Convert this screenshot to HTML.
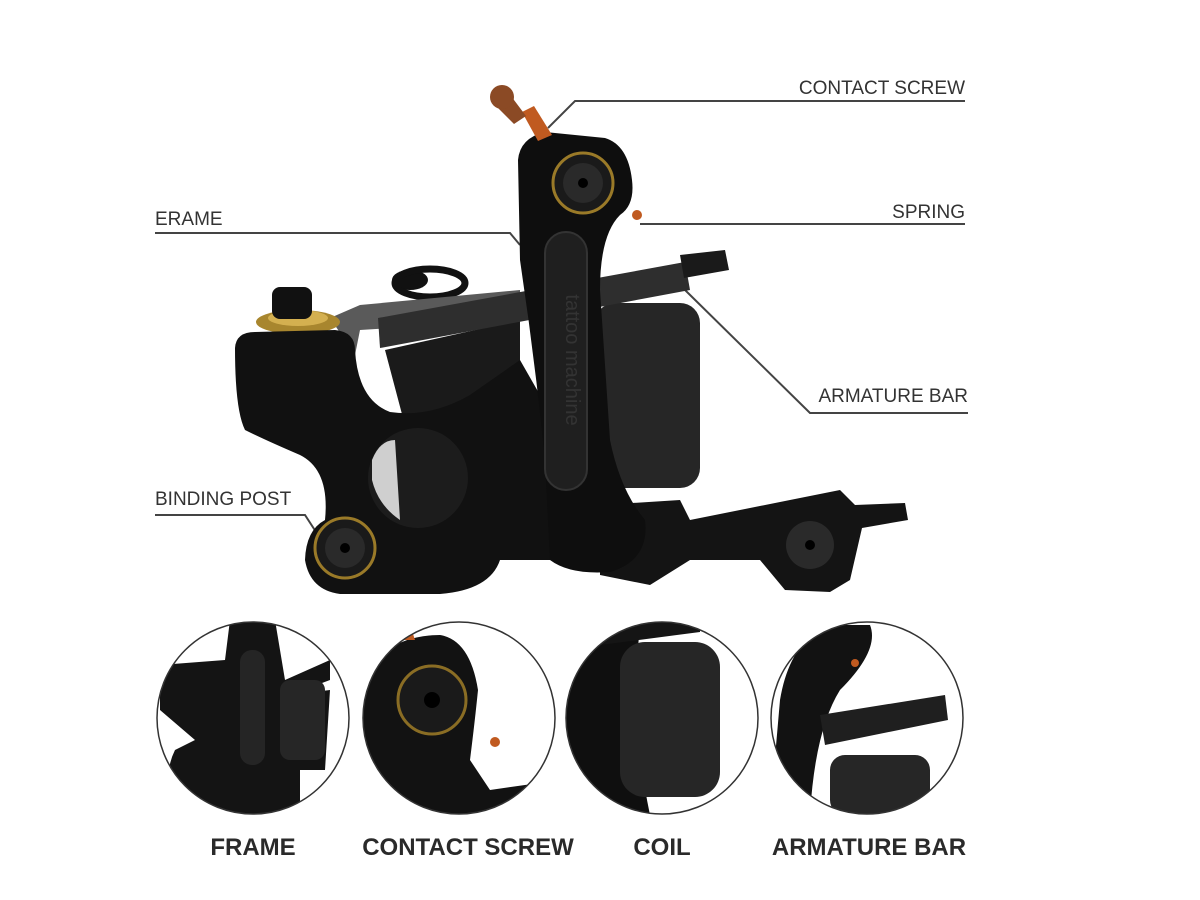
<!DOCTYPE html>
<html><head><meta charset="utf-8"><style>
html,body{margin:0;padding:0;background:#fff;}
svg{display:block}
.lab{font-family:"Liberation Sans",sans-serif;font-size:19px;fill:#333;}
.big{font-family:"Liberation Sans",sans-serif;font-size:24px;font-weight:bold;fill:#2a2a2a;}
</style></head><body>
<svg width="1200" height="900" viewBox="0 0 1200 900" xmlns="http://www.w3.org/2000/svg">
<defs>
<clipPath id="c1"><circle cx="253" cy="718" r="96"/></clipPath>
<clipPath id="c2"><circle cx="459" cy="718" r="96"/></clipPath>
<clipPath id="c3"><circle cx="662" cy="718" r="96"/></clipPath>
<clipPath id="c4"><circle cx="867" cy="718" r="96"/></clipPath>
</defs>
<rect width="1200" height="900" fill="#fff"/>

<g stroke="#444" stroke-width="2" fill="none">
<polyline points="548,128 575,101 965,101"/>
<polyline points="640,224 965,224"/>
<polyline points="155,233 510,233 520,245"/>
<polyline points="685,290 810,413 968,413"/>
<polyline points="155,515 305,515 318,535"/>
</g>
<text class="lab" x="965" y="94" text-anchor="end">CONTACT SCREW</text>
<text class="lab" x="965" y="218" text-anchor="end">SPRING</text>
<text class="lab" x="155" y="225">ERAME</text>
<text class="lab" x="968" y="402" text-anchor="end">ARMATURE BAR</text>
<text class="lab" x="155" y="505">BINDING POST</text>

<path d="M600,505 L680,500 L690,520 L790,500 L840,490 L855,505 L905,503 L908,520 L862,528 L850,580 L830,592 L785,590 L760,560 L690,560 L650,585 L600,575 Z" fill="#141414"/>
<circle cx="810" cy="545" r="24" fill="#2a2a2a"/>
<circle cx="810" cy="545" r="5" fill="#000"/>
<rect x="595" y="303" width="105" height="185" rx="20" fill="#262626"/>
<path d="M385,350 L520,320 L520,510 L430,520 Z" fill="#1a1a1a"/>
<ellipse cx="410" cy="280" rx="18" ry="10" fill="#111"/>
<ellipse cx="430" cy="283" rx="35" ry="14" fill="none" stroke="#111" stroke-width="7"/>
<path d="M330,318 L360,305 L520,290 L520,320 L360,330 L355,355 Z" fill="#5a5a5a"/>
<ellipse cx="298" cy="322" rx="42" ry="12" fill="#a8862e"/>
<ellipse cx="298" cy="318" rx="30" ry="8" fill="#d4b050"/>
<rect x="272" y="287" width="40" height="32" rx="8" fill="#111"/>
<path d="M378,318 L685,262 L690,290 L380,348 Z" fill="#2e2e2e"/>
<path d="M680,255 L725,250 L729,270 L684,278 Z" fill="#1a1a1a"/>
<path d="M235,348 Q236,332 255,332 L335,330 Q355,332 355,350 Q358,400 390,412 Q430,418 470,395 L520,360 L560,430 L560,560 L500,560 Q490,590 440,594 L340,594 Q310,590 305,560 Q306,530 325,520 Q330,470 300,455 Q265,440 245,430 Q235,410 235,348 Z" fill="#111"/>
<ellipse cx="418" cy="478" rx="50" ry="50" fill="#1c1c1c"/>
<path d="M372,460 Q380,440 395,440 L400,520 Q378,505 372,480 Z" fill="#cfcfcf"/>
<circle cx="345" cy="548" r="30" fill="#1a1a1a" stroke="#9a7a28" stroke-width="3"/>
<circle cx="345" cy="548" r="20" fill="#2a2a2a"/>
<circle cx="345" cy="548" r="5" fill="#000"/>
<path d="M518,160 Q520,138 545,132 L605,138 Q628,145 632,180 Q635,205 620,215 Q600,235 600,290 L610,440 Q620,490 645,520 Q650,560 610,572 Q570,575 550,560 L545,460 Q535,360 520,260 Z" fill="#0e0e0e"/>
<rect x="545" y="232" width="42" height="258" rx="21" fill="#1f1f1f" stroke="#333" stroke-width="2"/>
<text x="566" y="360" transform="rotate(90 566 360)" text-anchor="middle" font-family="Liberation Sans,sans-serif" font-size="20" fill="#333">tattoo machine</text>
<circle cx="583" cy="183" r="30" fill="#1a1a1a" stroke="#9a7a28" stroke-width="3"/>
<circle cx="583" cy="183" r="20" fill="#2a2a2a"/>
<circle cx="583" cy="183" r="5" fill="#000"/>
<path d="M522,112 L534,106 L552,135 L538,141 Z" fill="#c05a20"/>
<path d="M494,104 L508,92 L526,116 L514,124 Z" fill="#8b4a25"/>
<ellipse cx="502" cy="97" rx="12" ry="12" fill="#8b4a25"/>
<circle cx="637" cy="215" r="5" fill="#c05a20"/>

<g clip-path="url(#c1)">
<path d="M230,620 L275,620 L285,680 L330,660 L330,680 L290,695 L330,690 L325,770 L300,770 L300,815 L180,815 Q160,780 175,750 L195,740 L160,710 L160,665 L225,660 Z" fill="#141414"/>
<rect x="240" y="650" width="25" height="115" rx="12" fill="#252525"/>
<rect x="280" y="680" width="45" height="80" rx="10" fill="#262626"/>
</g>
<circle cx="253" cy="718" r="96" fill="none" stroke="#333" stroke-width="1.5"/>
<g clip-path="url(#c2)">
<path d="M375,660 Q400,635 440,635 Q470,640 478,690 Q475,720 470,760 L490,790 L560,780 L560,815 L370,815 L360,690 Z" fill="#121212"/>
<circle cx="432" cy="700" r="34" fill="#1a1a1a" stroke="#8a6d24" stroke-width="3"/>
<circle cx="432" cy="700" r="8" fill="#000"/>
<path d="M400,640 L410,625 L415,640 Z" fill="#c05a20"/>
<circle cx="495" cy="742" r="5" fill="#c05a20"/>
</g>
<circle cx="459" cy="718" r="96" fill="none" stroke="#333" stroke-width="1.5"/>
<g clip-path="url(#c3)">
<path d="M565,640 L640,625 Q630,720 650,815 L565,815 Z" fill="#0f0f0f"/>
<rect x="620" y="642" width="100" height="155" rx="25" fill="#262626"/>
<path d="M600,620 L700,620 L700,632 L600,645 Z" fill="#151515"/>
</g>
<circle cx="662" cy="718" r="96" fill="none" stroke="#333" stroke-width="1.5"/>
<g clip-path="url(#c4)">
<path d="M780,700 Q790,640 830,625 L870,625 Q880,650 840,690 Q815,730 810,815 L770,815 Z" fill="#121212"/>
<path d="M820,715 L945,695 L948,720 L825,745 Z" fill="#1f1f1f"/>
<rect x="830" y="755" width="100" height="60" rx="15" fill="#262626"/>
<circle cx="855" cy="663" r="4" fill="#c05a20"/>
</g>
<circle cx="867" cy="718" r="96" fill="none" stroke="#333" stroke-width="1.5"/>

<text class="big" x="253" y="855" text-anchor="middle">FRAME</text>
<text class="big" x="468" y="855" text-anchor="middle">CONTACT SCREW</text>
<text class="big" x="662" y="855" text-anchor="middle">COIL</text>
<text class="big" x="869" y="855" text-anchor="middle">ARMATURE BAR</text>
</svg>
</body></html>
